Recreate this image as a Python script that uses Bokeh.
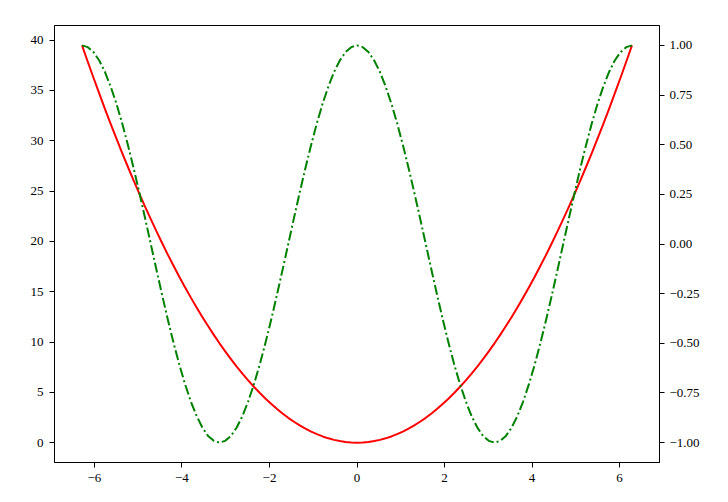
from bokeh.plotting import figure
from bokeh.models import Range1d, LinearAxis, FixedTicker
from bokeh.embed import file_html
from bokeh.resources import INLINE

# x samples from -2*pi to 2*pi
x = [-6.283, -6.152, -6.021, -5.890, -5.760, -5.629, -5.498, -5.367, -5.236, -5.105,
     -4.974, -4.843, -4.712, -4.581, -4.451, -4.320, -4.189, -4.058, -3.927, -3.796,
     -3.665, -3.534, -3.403, -3.272, -3.142, -3.011, -2.880, -2.749, -2.618, -2.487,
     -2.356, -2.225, -2.094, -1.963, -1.833, -1.702, -1.571, -1.440, -1.309, -1.178,
     -1.047, -0.916, -0.785, -0.654, -0.524, -0.393, -0.262, -0.131, 0.0,
     0.131, 0.262, 0.393, 0.524, 0.654, 0.785, 0.916, 1.047, 1.178, 1.309,
     1.440, 1.571, 1.702, 1.833, 1.963, 2.094, 2.225, 2.356, 2.487, 2.618,
     2.749, 2.880, 3.011, 3.142, 3.272, 3.403, 3.534, 3.665, 3.796, 3.927,
     4.058, 4.189, 4.320, 4.451, 4.581, 4.712, 4.843, 4.974, 5.105, 5.236,
     5.367, 5.498, 5.629, 5.760, 5.890, 6.021, 6.152, 6.283]

# red curve (left axis)
y_left = [39.478, 37.851, 36.257, 34.698, 33.173, 31.683, 30.226, 28.804, 27.416, 26.062,
          24.743, 23.458, 22.207, 20.990, 19.808, 18.660, 17.546, 16.466, 15.421, 14.410,
          13.434, 12.491, 11.583, 10.709, 9.870, 9.064, 8.293, 7.556, 6.854, 6.185,
          5.552, 4.952, 4.386, 3.855, 3.358, 2.896, 2.467, 2.073, 1.713, 1.388,
          1.097, 0.840, 0.617, 0.428, 0.274, 0.154, 0.069, 0.017, 0.0,
          0.017, 0.069, 0.154, 0.274, 0.428, 0.617, 0.840, 1.097, 1.388, 1.713,
          2.073, 2.467, 2.896, 3.358, 3.855, 4.386, 4.952, 5.552, 6.185, 6.854,
          7.556, 8.293, 9.064, 9.870, 10.709, 11.583, 12.491, 13.434, 14.410, 15.421,
          16.466, 17.546, 18.660, 19.808, 20.990, 22.207, 23.458, 24.743, 26.062, 27.416,
          28.804, 30.226, 31.683, 33.173, 34.698, 36.257, 37.851, 39.478]

# green dash-dot curve (right axis)
y_right = [1.0, 0.991, 0.966, 0.924, 0.866, 0.793, 0.707, 0.609, 0.5, 0.383,
           0.259, 0.131, 0.0, -0.131, -0.259, -0.383, -0.5, -0.609, -0.707, -0.793,
           -0.866, -0.924, -0.966, -0.991, -1.0, -0.991, -0.966, -0.924, -0.866, -0.793,
           -0.707, -0.609, -0.5, -0.383, -0.259, -0.131, 0.0, 0.131, 0.259, 0.383,
           0.5, 0.609, 0.707, 0.793, 0.866, 0.924, 0.966, 0.991, 1.0,
           0.991, 0.966, 0.924, 0.866, 0.793, 0.707, 0.609, 0.5, 0.383, 0.259,
           0.131, 0.0, -0.131, -0.259, -0.383, -0.5, -0.609, -0.707, -0.793, -0.866,
           -0.924, -0.966, -0.991, -1.0, -0.991, -0.966, -0.924, -0.866, -0.793, -0.707,
           -0.609, -0.5, -0.383, -0.259, -0.131, 0.0, 0.131, 0.259, 0.383, 0.5,
           0.609, 0.707, 0.793, 0.866, 0.924, 0.966, 0.991, 1.0]

x_ticks = [-6, -4, -2, 0, 2, 4, 6]
x_tick_labels = ["\u22126", "\u22124", "\u22122", "0", "2", "4", "6"]
left_ticks = [0, 5, 10, 15, 20, 25, 30, 35, 40]
right_ticks = [-1.0, -0.75, -0.5, -0.25, 0.0, 0.25, 0.5, 0.75, 1.0]
right_tick_labels = ["\u22121.00", "\u22120.75", "\u22120.50", "\u22120.25", "0.00",
                     "0.25", "0.50", "0.75", "1.00"]

FONT = "Liberation Serif"
FS = "13px"

p = figure(width=720, height=494, output_backend="svg", toolbar_location=None,
           x_range=Range1d(-6.912, 6.912), y_range=Range1d(-1.974, 41.452),
           min_border_left=54, min_border_top=25, min_border_right=61,
           min_border_bottom=32)
p.extra_y_ranges = {"right": Range1d(-1.1, 1.1)}

p.xgrid.visible = False
p.ygrid.visible = False
p.outline_line_color = "black"
p.outline_line_width = 1
p.outline_line_alpha = 1.0
p.background_fill_color = "white"
p.border_fill_color = "white"

p.line(x, y_left, line_color="red", line_width=2, line_join="round")
p.line(x, y_right, line_color="green", line_width=2, line_dash="10 3 2 3",
       line_join="round", y_range_name="right")

right_axis = LinearAxis(y_range_name="right")
p.add_layout(right_axis, "right")

def style(ax):
    ax.axis_line_color = "black"
    ax.major_tick_line_color = "black"
    ax.major_tick_out = 5
    ax.major_tick_in = 0
    ax.minor_tick_line_color = None
    ax.major_label_text_font = FONT
    ax.major_label_text_font_size = FS
    ax.major_label_text_color = "black"
    ax.major_label_standoff = 6

for ax in [p.xaxis[0], p.yaxis[0], right_axis]:
    style(ax)

p.xaxis[0].ticker = FixedTicker(ticks=x_ticks)
p.xaxis[0].major_label_overrides = {t: l for t, l in zip(x_ticks, x_tick_labels)}
p.yaxis[0].ticker = FixedTicker(ticks=left_ticks)
right_axis.ticker = FixedTicker(ticks=right_ticks)
right_axis.major_label_overrides = {t: l for t, l in zip(right_ticks, right_tick_labels)}
right_axis.major_label_standoff = 5

open("out.html", "w").write(file_html(p, INLINE))
